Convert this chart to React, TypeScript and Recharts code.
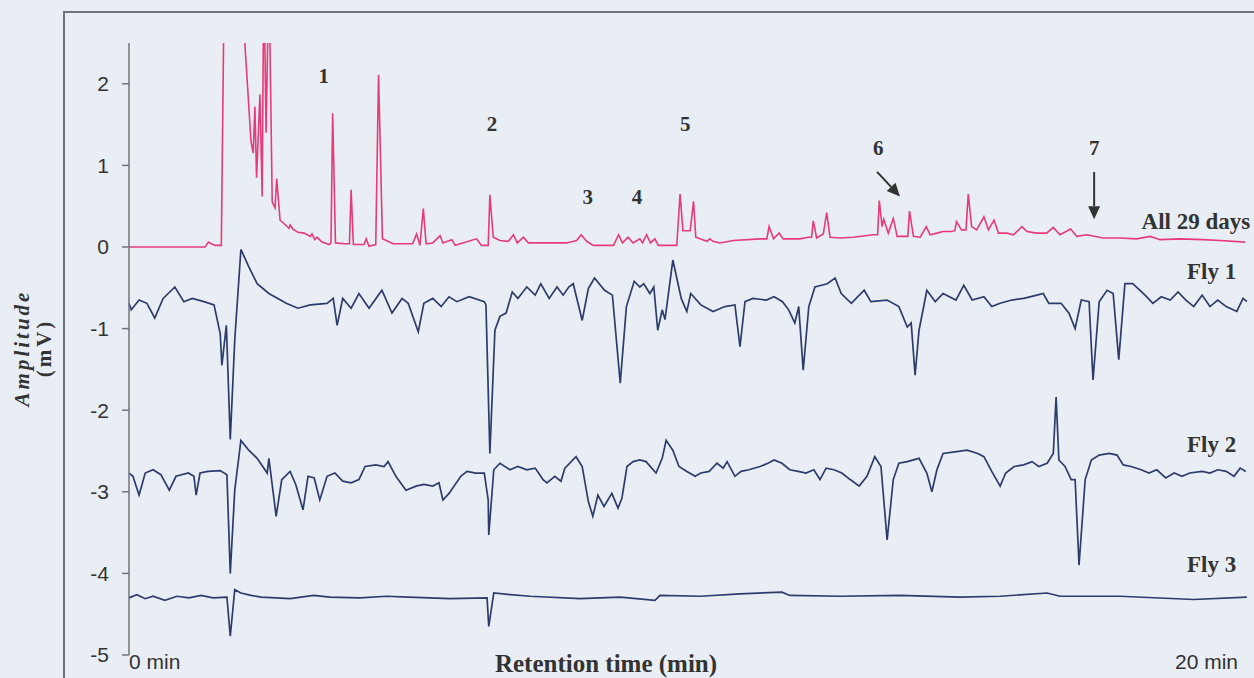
import React from 'react';
import { LineChart, Line, XAxis, YAxis, ReferenceDot, ReferenceLine } from 'recharts';

// retention time (min), amplitude (mV)
const allDays29: [number, number][] = [
  [0, 0], [1.36, 0], [1.42, 0.06], [1.47, 0.04], [1.54, 0.02], [1.65, 0.02], [1.69, 2.5], [1.72, 2.55],
  [1.8, 3.6], [2.0, 3.8], [2.07, 2.5], [2.18, 1.3], [2.22, 1.15], [2.25, 1.72], [2.28, 0.85], [2.34, 1.87],
  [2.38, 0.62], [2.41, 3.4], [2.45, 1.4], [2.5, 3.4], [2.56, 0.55], [2.61, 0.48], [2.64, 0.84], [2.7, 0.33],
  [2.75, 0.3], [2.86, 0.23], [2.88, 0.27], [2.93, 0.22], [3.02, 0.18], [3.13, 0.17], [3.24, 0.13], [3.27, 0.16],
  [3.32, 0.09], [3.36, 0.12], [3.45, 0.06], [3.58, 0.03], [3.61, 0.05], [3.64, 1.64], [3.69, 0.05], [3.85, 0.04],
  [3.94, 0.04], [3.97, 0.7], [4.01, 0.03], [4.2, 0.03], [4.24, 0.1], [4.29, 0.01], [4.41, 0.03], [4.46, 2.11],
  [4.53, 0.1], [4.72, 0.04], [5.07, 0.04], [5.14, 0.16], [5.2, 0.02], [5.26, 0.47], [5.31, 0.04], [5.43, 0.05],
  [5.56, 0.14], [5.61, 0.05], [5.77, 0.09], [5.83, 0.02], [6.21, 0.1], [6.3, 0.02], [6.42, 0.02], [6.45, 0.64],
  [6.51, 0.12], [6.63, 0.08], [6.78, 0.07], [6.87, 0.15], [6.94, 0.05], [7.05, 0.12], [7.14, 0.05], [7.4, 0.05],
  [7.82, 0.05], [8.0, 0.08], [8.08, 0.15], [8.18, 0.07], [8.3, 0.02], [8.66, 0.02], [8.75, 0.15], [8.82, 0.05],
  [8.92, 0.12], [9.01, 0.05], [9.13, 0.1], [9.18, 0.05], [9.25, 0.15], [9.32, 0.05], [9.4, 0.1], [9.46, 0.02],
  [9.79, 0.02], [9.85, 0.65], [9.9, 0.2], [10.03, 0.2], [10.09, 0.56], [10.13, 0.12], [10.33, 0.07], [10.38, 0.1],
  [10.44, 0.07], [10.56, 0.05], [10.8, 0.08], [11.28, 0.1], [11.4, 0.1], [11.44, 0.25], [11.52, 0.1],
  [11.62, 0.17], [11.69, 0.1], [11.99, 0.1], [12.14, 0.12], [12.2, 0.12], [12.23, 0.32], [12.29, 0.11],
  [12.41, 0.16], [12.47, 0.42], [12.53, 0.12], [12.71, 0.11], [12.94, 0.12], [13.3, 0.15], [13.38, 0.15],
  [13.41, 0.57], [13.46, 0.25], [13.49, 0.34], [13.57, 0.17], [13.66, 0.35], [13.73, 0.13], [13.87, 0.13],
  [13.92, 0.13], [13.95, 0.44], [14.02, 0.13], [14.14, 0.12], [14.25, 0.25], [14.32, 0.15], [14.44, 0.17],
  [14.55, 0.19], [14.7, 0.19], [14.76, 0.2], [14.79, 0.31], [14.88, 0.21], [14.96, 0.21], [15.0, 0.65],
  [15.06, 0.25], [15.15, 0.21], [15.28, 0.37], [15.36, 0.21], [15.46, 0.33], [15.54, 0.17], [15.69, 0.17],
  [15.81, 0.15], [15.96, 0.25], [16.05, 0.19], [16.22, 0.17], [16.4, 0.17], [16.52, 0.24], [16.64, 0.15],
  [16.83, 0.22], [16.94, 0.13], [17.12, 0.15], [17.41, 0.11], [17.71, 0.11], [18.01, 0.1], [18.25, 0.13],
  [18.43, 0.09], [18.79, 0.1], [19.2, 0.09], [19.5, 0.08], [19.95, 0.06],
];

const fly1: [number, number][] = [
  [0, -0.69], [0.04, -0.77], [0.18, -0.65], [0.32, -0.69], [0.46, -0.87], [0.61, -0.63], [0.82, -0.49],
  [0.98, -0.67], [1.13, -0.63], [1.34, -0.67], [1.52, -0.71], [1.63, -1.06], [1.66, -1.45], [1.74, -0.96],
  [1.81, -2.36], [1.89, -1.14], [2.0, -0.03], [2.14, -0.24], [2.29, -0.45], [2.5, -0.57], [2.81, -0.69],
  [3.02, -0.75], [3.24, -0.71], [3.54, -0.69], [3.65, -0.63], [3.72, -0.96], [3.82, -0.63], [3.97, -0.75],
  [4.11, -0.57], [4.29, -0.75], [4.52, -0.53], [4.7, -0.81], [4.88, -0.63], [4.99, -0.69], [5.17, -1.04],
  [5.27, -0.69], [5.43, -0.63], [5.58, -0.73], [5.72, -0.61], [5.86, -0.67], [6.08, -0.61], [6.35, -0.67],
  [6.38, -0.71], [6.45, -2.53], [6.54, -1.02], [6.63, -0.85], [6.74, -0.81], [6.85, -0.55], [6.95, -0.63],
  [7.11, -0.49], [7.26, -0.59], [7.36, -0.45], [7.51, -0.63], [7.65, -0.49], [7.76, -0.59], [7.86, -0.49],
  [7.94, -0.45], [8.1, -0.9], [8.21, -0.51], [8.32, -0.38], [8.5, -0.53], [8.64, -0.59], [8.78, -1.67],
  [8.89, -0.73], [9.03, -0.42], [9.13, -0.49], [9.2, -0.45], [9.31, -0.57], [9.38, -0.49], [9.45, -1.02],
  [9.53, -0.77], [9.58, -0.89], [9.72, -0.16], [9.87, -0.63], [9.97, -0.79], [10.04, -0.57], [10.22, -0.71],
  [10.44, -0.79], [10.65, -0.73], [10.83, -0.71], [10.92, -1.22], [11.01, -0.67], [11.15, -0.63],
  [11.39, -0.65], [11.53, -0.61], [11.68, -0.67], [11.79, -0.77], [11.9, -0.93], [11.97, -0.73],
  [12.05, -1.51], [12.15, -0.73], [12.26, -0.49], [12.48, -0.45], [12.62, -0.38], [12.73, -0.57],
  [12.91, -0.69], [13.14, -0.53], [13.26, -0.67], [13.55, -0.65], [13.76, -0.73], [13.91, -0.98],
  [13.98, -0.93], [14.05, -1.57], [14.12, -1.02], [14.26, -0.53], [14.41, -0.67], [14.55, -0.57],
  [14.78, -0.65], [14.92, -0.47], [15.07, -0.65], [15.28, -0.61], [15.42, -0.73], [15.57, -0.69],
  [15.78, -0.65], [15.99, -0.63], [16.23, -0.59], [16.34, -0.57], [16.44, -0.69], [16.66, -0.69],
  [16.8, -0.81], [16.91, -1.0], [17.02, -0.65], [17.16, -0.67], [17.23, -1.63], [17.34, -0.67],
  [17.48, -0.53], [17.59, -0.57], [17.69, -1.38], [17.8, -0.45], [17.94, -0.45], [18.16, -0.59],
  [18.3, -0.69], [18.45, -0.61], [18.61, -0.65], [18.75, -0.55], [18.89, -0.65], [19.03, -0.73],
  [19.18, -0.59], [19.32, -0.73], [19.46, -0.65], [19.61, -0.73], [19.8, -0.79], [19.91, -0.63], [19.98, -0.67],
];

const fly2: [number, number][] = [
  [0, -2.77], [0.07, -2.81], [0.18, -3.04], [0.29, -2.77], [0.43, -2.73], [0.57, -2.79], [0.72, -2.98],
  [0.84, -2.81], [1.06, -2.77], [1.16, -2.81], [1.2, -3.04], [1.27, -2.77], [1.41, -2.75], [1.63, -2.74],
  [1.75, -2.79], [1.81, -4.0], [1.89, -2.98], [2.0, -2.37], [2.14, -2.49], [2.29, -2.59], [2.47, -2.77],
  [2.5, -2.59], [2.63, -3.3], [2.73, -2.85], [2.88, -2.75], [2.98, -2.91], [3.11, -3.22], [3.2, -2.81],
  [3.31, -2.83], [3.41, -3.1], [3.54, -2.81], [3.68, -2.77], [3.82, -2.87], [3.97, -2.89], [4.11, -2.85],
  [4.22, -2.69], [4.41, -2.67], [4.56, -2.69], [4.63, -2.63], [4.77, -2.81], [4.95, -2.98], [5.13, -2.93],
  [5.27, -2.91], [5.43, -2.93], [5.54, -2.89], [5.61, -3.1], [5.72, -3.02], [5.93, -2.81], [6.04, -2.75],
  [6.2, -2.77], [6.35, -2.77], [6.42, -3.1], [6.43, -3.53], [6.52, -2.73], [6.63, -2.65], [6.81, -2.73],
  [6.95, -2.69], [7.11, -2.73], [7.26, -2.71], [7.4, -2.85], [7.47, -2.89], [7.61, -2.81], [7.72, -2.87],
  [7.79, -2.71], [7.99, -2.57], [8.1, -2.69], [8.21, -3.12], [8.29, -3.3], [8.38, -3.04], [8.49, -3.18],
  [8.63, -3.02], [8.74, -3.2], [8.81, -3.08], [8.9, -2.69], [9.01, -2.63], [9.13, -2.61], [9.24, -2.63],
  [9.42, -2.77], [9.53, -2.59], [9.6, -2.37], [9.72, -2.49], [9.83, -2.69], [9.97, -2.75], [10.12, -2.81],
  [10.22, -2.77], [10.37, -2.75], [10.51, -2.65], [10.62, -2.71], [10.69, -2.63], [10.83, -2.81],
  [10.94, -2.75], [11.08, -2.73], [11.28, -2.69], [11.42, -2.65], [11.53, -2.61], [11.67, -2.65],
  [11.81, -2.73], [11.96, -2.75], [12.1, -2.77], [12.24, -2.73], [12.35, -2.85], [12.46, -2.71],
  [12.6, -2.73], [12.74, -2.77], [12.89, -2.85], [13.05, -2.93], [13.19, -2.81], [13.33, -2.57],
  [13.44, -2.69], [13.55, -3.59], [13.66, -2.85], [13.76, -2.65], [13.91, -2.63], [14.12, -2.59],
  [14.26, -2.77], [14.35, -3.0], [14.44, -2.73], [14.55, -2.53], [14.76, -2.51], [14.98, -2.49],
  [15.17, -2.53], [15.28, -2.57], [15.42, -2.75], [15.57, -2.93], [15.67, -2.77], [15.82, -2.69],
  [15.99, -2.67], [16.14, -2.63], [16.26, -2.69], [16.41, -2.65], [16.52, -2.53], [16.57, -1.84],
  [16.62, -2.61], [16.73, -2.69], [16.84, -2.85], [16.91, -2.85], [16.98, -3.9], [17.09, -2.85],
  [17.2, -2.61], [17.34, -2.55], [17.52, -2.53], [17.66, -2.55], [17.77, -2.67], [17.91, -2.69],
  [18.09, -2.73], [18.23, -2.77], [18.37, -2.73], [18.53, -2.83], [18.68, -2.77], [18.82, -2.81],
  [18.96, -2.77], [19.18, -2.75], [19.32, -2.77], [19.46, -2.73], [19.61, -2.75], [19.75, -2.81],
  [19.86, -2.71], [19.96, -2.75],
];

const fly3: [number, number][] = [
  [0, -4.3], [0.14, -4.26], [0.29, -4.31], [0.43, -4.28], [0.64, -4.33], [0.86, -4.28], [1.07, -4.3],
  [1.29, -4.27], [1.5, -4.3], [1.75, -4.29], [1.81, -4.77], [1.89, -4.2], [2.0, -4.24], [2.18, -4.27],
  [2.36, -4.29], [2.88, -4.31], [3.3, -4.27], [3.59, -4.29], [4.13, -4.3], [4.6, -4.28], [4.99, -4.29],
  [5.74, -4.31], [6.4, -4.3], [6.43, -4.65], [6.52, -4.24], [6.81, -4.26], [7.17, -4.28], [8.06, -4.31],
  [8.78, -4.29], [9.4, -4.33], [9.49, -4.27], [10.21, -4.28], [10.92, -4.25], [11.67, -4.23], [11.81, -4.27],
  [12.71, -4.28], [13.78, -4.27], [14.85, -4.29], [15.57, -4.28], [16.41, -4.24], [16.64, -4.28],
  [17.71, -4.28], [19.03, -4.32], [19.98, -4.29],
];

const amplitudeTicks = [-5, -4, -3, -2, -1, 0, 1, 2];
const timeTicks = [0, 20];

const peakLabels = [
  { name: '1', t: 3.48, v: 2.01 },
  { name: '2', t: 6.49, v: 1.42 },
  { name: '3', t: 8.2, v: 0.53 },
  { name: '4', t: 9.08, v: 0.53 },
  { name: '5', t: 9.94, v: 1.42 },
  { name: '6', t: 13.39, v: 1.13 },
  { name: '7', t: 17.25, v: 1.13 },
];

const traceLabels = [
  { name: 'All 29 days', t: 20.04, v: 0.22 },
  { name: 'Fly 1', t: 19.79, v: -0.39 },
  { name: 'Fly 2', t: 19.79, v: -2.51 },
  { name: 'Fly 3', t: 19.79, v: -3.98 },
];

const arrows = [
  { from: { x: 13.37, y: 0.92 }, to: { x: 13.78, y: 0.62 } },
  { from: { x: 17.25, y: 0.92 }, to: { x: 17.25, y: 0.34 } },
];

const PINK = '#e63b78';
const NAVY = '#2e3c6c';
const SERIF = '"Liberation Serif", "Times New Roman", serif';
const SANS = '"Liberation Sans", Arial, sans-serif';

const toPoints = (arr: [number, number][]) => arr.map(([t, v]) => ({ t, v }));

const ArrowShape = (p: any) => {
  const { x1, y1, x2, y2 } = p;
  const a = Math.atan2(y2 - y1, x2 - x1);
  const len = 13;
  const hw = 6;
  const bx = x2 - len * Math.cos(a);
  const by = y2 - len * Math.sin(a);
  const px = -Math.sin(a) * hw;
  const py = Math.cos(a) * hw;
  return (
    <g>
      <line x1={x1} y1={y1} x2={bx} y2={by} stroke="#333" strokeWidth={2} />
      <polygon points={`${x2},${y2} ${bx + px},${by + py} ${bx - px},${by - py}`} fill="#333" />
    </g>
  );
};

const TimeTick = (props: any) => {
  const { x, y, payload } = props;
  const isEnd = payload.value === 20;
  return (
    <text
      x={isEnd ? x - 8 : x}
      y={y + 14}
      textAnchor={isEnd ? 'end' : 'start'}
      fill="#333"
      fontSize={21}
      fontFamily={SANS}
    >
      {payload.value} min
    </text>
  );
};

const AmplitudeLabel = () => (
  <g>
    <text
      x={22}
      y={348}
      transform="rotate(-90 22 348)"
      textAnchor="middle"
      dominantBaseline="central"
      fontFamily={SERIF}
      fontWeight="bold"
      fontStyle="italic"
      fontSize={21}
      letterSpacing={3}
      fill="#333"
    >
      Amplitude
    </text>
    <text
      x={44}
      y={348}
      transform="rotate(-90 44 348)"
      textAnchor="middle"
      dominantBaseline="central"
      fontFamily={SERIF}
      fontWeight="bold"
      fontSize={21}
      letterSpacing={3}
      fill="#333"
    >
      (mV)
    </text>
  </g>
);

const RetentionLabel = (props: any) => {
  const { viewBox } = props;
  return (
    <text
      x={viewBox.x + 477}
      y={672}
      textAnchor="middle"
      fontFamily={SERIF}
      fontWeight="bold"
      fontSize={25}
      fill="#333"
    >
      Retention time (min)
    </text>
  );
};

export default function App() {
  return (
    <div style={{ position: 'absolute', left: 0, top: 0, width: 1254, height: 678, background: '#e9eef4', overflow: 'hidden' }}>
      <div
        style={{
          position: 'absolute',
          left: 63,
          top: 11,
          right: -2,
          bottom: -2,
          borderLeft: '2px solid #70747a',
          borderTop: '2px solid #70747a',
        }}
      />
      <div style={{ position: 'absolute', left: 0, top: 0 }}>
        <LineChart width={1254} height={678} margin={{ top: 43, right: 6, bottom: 0, left: 0 }}>
          <XAxis
            type="number"
            dataKey="t"
            domain={[0, 20]}
            ticks={timeTicks}
            axisLine={false}
            tickLine={false}
            tickSize={0}
            tickMargin={0}
            height={23}
            tick={<TimeTick />}
            label={{ content: <RetentionLabel /> }}
          />
          <YAxis
            type="number"
            width={129}
            domain={[-5, 2.5]}
            ticks={amplitudeTicks}
            allowDataOverflow
            axisLine={{ stroke: '#70747a', strokeWidth: 1.5 }}
            tickLine={{ stroke: '#70747a', strokeWidth: 1.5 }}
            tickSize={7}
            tickMargin={13}
            tick={{ fill: '#333', fontSize: 21, fontFamily: SANS }}
            label={{ content: <AmplitudeLabel /> }}
          />
          <Line data={toPoints(allDays29)} dataKey="v" type="linear" stroke={PINK} strokeWidth={1.6} dot={false} isAnimationActive={false} />
          <Line data={toPoints(fly1)} dataKey="v" type="linear" stroke={NAVY} strokeWidth={1.7} dot={false} isAnimationActive={false} />
          <Line data={toPoints(fly2)} dataKey="v" type="linear" stroke={NAVY} strokeWidth={1.7} dot={false} isAnimationActive={false} />
          <Line data={toPoints(fly3)} dataKey="v" type="linear" stroke={NAVY} strokeWidth={1.7} dot={false} isAnimationActive={false} />
          {arrows.map((a, i) => (
            <ReferenceLine key={`arrow-${i}`} segment={[a.from, a.to]} ifOverflow="visible" shape={ArrowShape} />
          ))}
          {peakLabels.map((p) => (
            <ReferenceDot
              key={`peak-${p.name}`}
              x={p.t}
              y={p.v}
              ifOverflow="visible"
              shape={(s: any) => (
                <text x={s.cx} y={s.cy} textAnchor="middle" fontFamily={SERIF} fontWeight="bold" fontSize={21} fill="#333">
                  {p.name}
                </text>
              )}
            />
          ))}
          {traceLabels.map((p) => (
            <ReferenceDot
              key={`trace-${p.name}`}
              x={p.t}
              y={p.v}
              ifOverflow="visible"
              shape={(s: any) => (
                <text x={s.cx} y={s.cy} textAnchor="end" fontFamily={SERIF} fontWeight="bold" fontSize={23} fill="#333">
                  {p.name}
                </text>
              )}
            />
          ))}
        </LineChart>
      </div>
    </div>
  );
}
